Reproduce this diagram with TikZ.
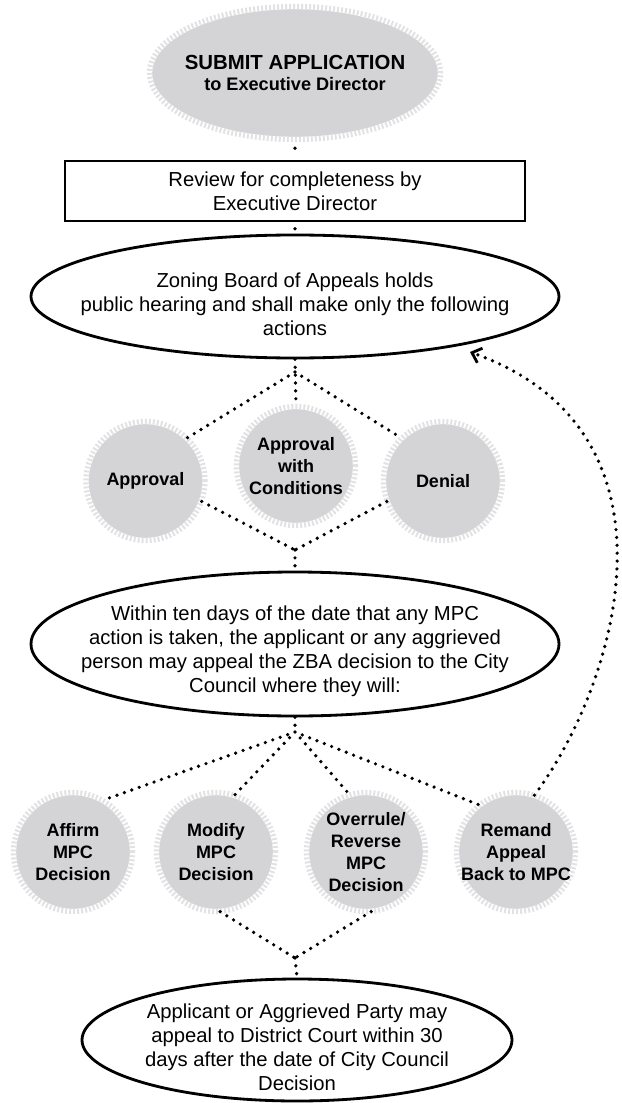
\documentclass[tikz,border=0pt]{standalone}
\usepackage{fontspec}
\setmainfont{Liberation Sans}
\usetikzlibrary{shapes.geometric,arrows.meta}
\definecolor{gearfill}{RGB}{212,212,214}
\definecolor{gearteeth}{RGB}{226,226,228}
\newcommand{\ovalstrut}{\rule{0pt}{21pt}}
\tikzset{
    gear/.style = {
    	fill=gearfill,
    	inner sep=-2pt,
    	align=center,
    	font=\fontsize{12.8}{15.6}\selectfont\bfseries,
    	postaction={draw=white, line width=3.8pt},
    	postaction={draw=gearteeth, line width=3.8pt, dash pattern=on 1.4pt off 1.45pt}
    },
    disc/.style = {
    	gear,
    	circle,
    	minimum size=2.975cm
    },
    box/.style = {
    	draw,
    	line width=2.1pt,
    	align=center,
    	font=\fontsize{14.4}{17.1}\selectfont
    },
    oval/.style = {
    	draw,
    	ellipse,
    	line width=2pt,
    	inner xsep=-0.8cm,
    	inner ysep=-0.3cm,
    	align=center,
    	font=\fontsize{14.4}{17.1}\selectfont
    },
    connect/.style = {
    	line width=2.6pt,
    	line cap=round,
    	dash pattern=on 0pt off 5.6pt
    },
    goback/.style = {
    	connect,
    	-{Straight Barb[length=6pt, width=11pt, line width=2pt]}
    }
}

\begin{document}
\begin{tikzpicture}

	\useasboundingbox (0,0) rectangle (15.525,-27.575);

	% Important coordinates
	\coordinate (hubA) at (7.375,-9.3);
	\coordinate (hubB) at (7.375,-13.75);
	\coordinate (hubC) at (7.375,-18.3);
	\coordinate (hubD) at (7.375,-23.95);
	\coordinate (backtip) at (11.75,-8.8);

	% Upper part
	\node[gear, ellipse, minimum width=7.275cm, minimum height=3.325cm, inner xsep=-0.3cm] (submit) at (7.375,-1.825)
		{{\fontsize{14.5}{16.4}\selectfont SUBMIT APPLICATION}\\ \fontsize{12.9}{16.4}\selectfont to Executive Director};
	\node[box, minimum width=11.5cm, minimum height=1.5cm] (review) at (7.375,-4.775)
		{Review for completeness by\\ Executive Director};
	\node[oval, minimum width=13.2cm, minimum height=3.075cm] (zba) at (7.375,-7.4125)
		{\ovalstrut Zoning Board of Appeals holds\\ public hearing and shall make only the following\\ actions};

	% ZBA actions
	\node[disc] (approval) at (3.6375,-12.025) {Approval};
	\node[disc] (conditions) at (7.4,-11.65) {Approval\\ with\\ Conditions};
	\node[disc] (denial) at (11.075,-12.025) {Denial};

	\node[oval, minimum width=13.2cm, minimum height=3.6cm] (within) at (7.375,-16.1)
		{\ovalstrut Within ten days of the date that any MPC\\ action is taken, the applicant or any aggrieved\\ person may appeal the ZBA decision to the City\\ Council where they will:};

	% City Council actions
	\node[disc] (affirm) at (1.825,-21.3) {Affirm\\ MPC\\ Decision};
	\node[disc] (modify) at (5.4,-21.3) {Modify\\ MPC\\ Decision};
	\node[disc] (overrule) at (9.15,-21.3) {Overrule/\\ Reverse\\ MPC\\ Decision};
	\node[disc] (remand) at (12.9,-21.3) {Remand\\ Appeal\\ Back to MPC};

	\node[oval, minimum width=10.75cm, minimum height=3.05cm] (court) at (7.425,-26.0)
		{\ovalstrut Applicant or Aggrieved Party may\\ appeal to District Court within 30\\ days after the date of City Council\\ Decision};

	% Dotted connections
	\draw[connect, shorten <=6pt, shorten >=5pt] (submit.south) -- (review.north);
	\draw[connect, shorten <=4.5pt, shorten >=4.5pt] (review.south) -- (zba.north);

	\draw[connect] (zba.south) -- (conditions.north);
	\draw[connect]
	(hubA) -- (approval.46)
	(hubA) -- (denial.134);
	\draw[connect]
	(approval.-20) -- (hubB)
	(denial.200) -- (hubB)
	(hubB) -- (within.north);

	\draw[connect] (within.south) -- (hubC);
	\draw[connect]
	(hubC) -- (affirm.60)
	(hubC) -- (modify.72)
	(hubC) -- (overrule.106)
	(hubC) -- (remand.128);
	\draw[connect]
	(modify.-86) -- (hubD)
	(overrule.-85) -- (hubD)
	(hubD) -- (court.north);

	% Remand goes back to the ZBA
	\draw[goback] (remand.72) .. controls (15.5,-17.0) and (17.25,-10.75) .. (backtip);

\end{tikzpicture}
\end{document}
